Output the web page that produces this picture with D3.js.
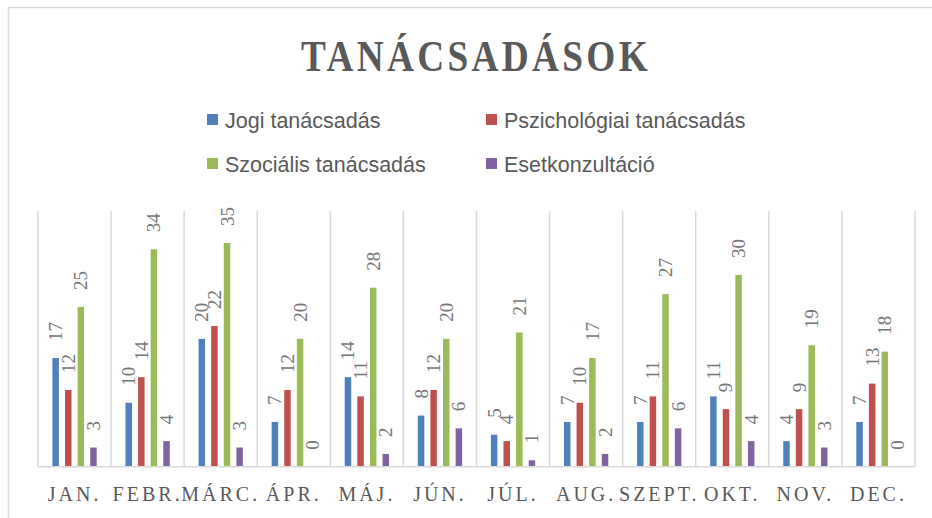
<!DOCTYPE html>
<html>
<head>
<meta charset="utf-8">
<script src="https://cdn.jsdelivr.net/npm/d3@7"></script>
<style>
  html, body { margin: 0; padding: 0; background: #fff; }
  svg { display: block; }
</style>
</head>
<body>
<svg id="chart" width="932" height="518"></svg>
<script>
const title = "TANÁCSADÁSOK";
const categories = ["JAN.", "FEBR.", "MÁRC.", "ÁPR.", "MÁJ.", "JÚN.", "JÚL.", "AUG.", "SZEPT.", "OKT.", "NOV.", "DEC."];
const seriesNames = ["Jogi tanácsadás", "Pszichológiai tanácsadás", "Szociális tanácsadás", "Esetkonzultáció"];
const seriesColors = ["#4f81bd", "#c0504d", "#9bbb59", "#8064a2"];
const jogi = [17, 10, 20, 7, 14, 8, 5, 7, 7, 11, 4, 7];
const pszich = [12, 14, 22, 12, 11, 12, 4, 10, 11, 9, 9, 13];
const szoc = [25, 34, 35, 20, 28, 20, 21, 17, 27, 30, 19, 18];
const eset = [3, 4, 3, 0, 2, 6, 1, 2, 6, 4, 3, 0];
const seriesValues = [jogi, pszich, szoc, eset];
const yMax = 40;

const svg = d3.select("#chart");
const W = 932, H = 518;
const plot = { left: 38, right: 915, top: 211, bottom: 466.7 };

// outer chart frame (only top & left visible)
svg.append("path")
  .attr("d", `M8.5,${H} L8.5,7.5 L${W},7.5`)
  .attr("fill", "none").attr("stroke", "#d9d9d9").attr("stroke-width", 1.5);

// title (narrow bold serif, letter-spaced)
const titleText = svg.append("text")
  .attr("x", 0).attr("y", 0)
  .attr("text-anchor", "middle")
  .attr("font-family", "'Liberation Serif', 'DejaVu Serif', serif")
  .attr("font-weight", "bold")
  .attr("font-size", 45)
  .attr("letter-spacing", 4)
  .attr("fill", "#595959")
  .text(title);
const tw = titleText.node().getComputedTextLength();
const sx = 350 / tw;
titleText.attr("transform", `translate(${476},71) scale(${sx},1)`);

// legend
const legendPos = [[207, 120], [486, 120], [207, 164], [486, 164]];
seriesNames.forEach((name, i) => {
  const [lx, ly] = legendPos[i];
  const g = svg.append("g").attr("transform", `translate(${lx},${ly})`);
  g.append("rect").attr("x", 0).attr("y", -6).attr("width", 11).attr("height", 11)
    .attr("fill", seriesColors[i]);
  g.append("text").attr("x", 18).attr("y", 7.5)
    .attr("font-family", "'Liberation Sans', Arial, sans-serif")
    .attr("font-size", 21.5)
    .attr("fill", "#595959")
    .text(name);
});

// scales
const x = d3.scaleBand().domain(categories).range([plot.left, plot.right]).paddingInner(0).paddingOuter(0);
const y = d3.scaleLinear().domain([0, yMax]).range([plot.bottom, plot.top]);
const barW = 6.5, barStep = 12.6;
const xs = d3.scaleBand().domain(d3.range(seriesNames.length))
  .range([-barStep * 2, barStep * 2]);

// vertical gridlines at category boundaries
const bounds = categories.map(c => x(c)).concat([plot.right]);
svg.append("g").selectAll("line").data(bounds).join("line")
  .attr("x1", d => d).attr("x2", d => d)
  .attr("y1", plot.top).attr("y2", plot.bottom)
  .attr("stroke", "#d9d9d9").attr("stroke-width", 1.5);

// bars
const barsG = svg.append("g");
seriesValues.forEach((vals, si) => {
  barsG.append("g").selectAll("rect").data(vals).join("rect")
    .attr("x", (d, i) => x(categories[i]) + x.bandwidth() / 2 + xs(si) + xs.bandwidth() / 2 - barW / 2)
    .attr("y", d => y(d))
    .attr("width", barW)
    .attr("height", d => y(0) - y(d))
    .attr("fill", seriesColors[si]);
});

// baseline axis
const xAxis = d3.axisBottom(x).tickSize(0).tickPadding(0);
const axG = svg.append("g").attr("transform", `translate(0,${plot.bottom})`).call(xAxis);
axG.select(".domain").attr("stroke", "#d9d9d9").attr("stroke-width", 1.5)
  .attr("d", `M${plot.left},0H${plot.right}`);
axG.selectAll(".tick text")
  .attr("y", 34)
  .attr("dy", 0)
  .attr("font-family", "'Liberation Serif', 'DejaVu Serif', serif")
  .attr("font-size", 20)
  .attr("letter-spacing", 3)
  .attr("fill", "#595959");

// data labels (rotated)
const labG = svg.append("g");
seriesValues.forEach((vals, si) => {
  labG.append("g").selectAll("text").data(vals).join("text")
    .attr("transform", (d, i) => {
      const cx = x(categories[i]) + x.bandwidth() / 2 + xs(si) + xs.bandwidth() / 2;
      return `translate(${cx},${y(d) - 17}) rotate(-90)`;
    })
    .attr("text-anchor", "start")
    .attr("dominant-baseline", "central")
    .attr("font-family", "'Liberation Serif', 'DejaVu Serif', serif")
    .attr("font-size", 19)
    .attr("fill", "#767676")
    .text(d => d);
});
</script>
</body>
</html>
